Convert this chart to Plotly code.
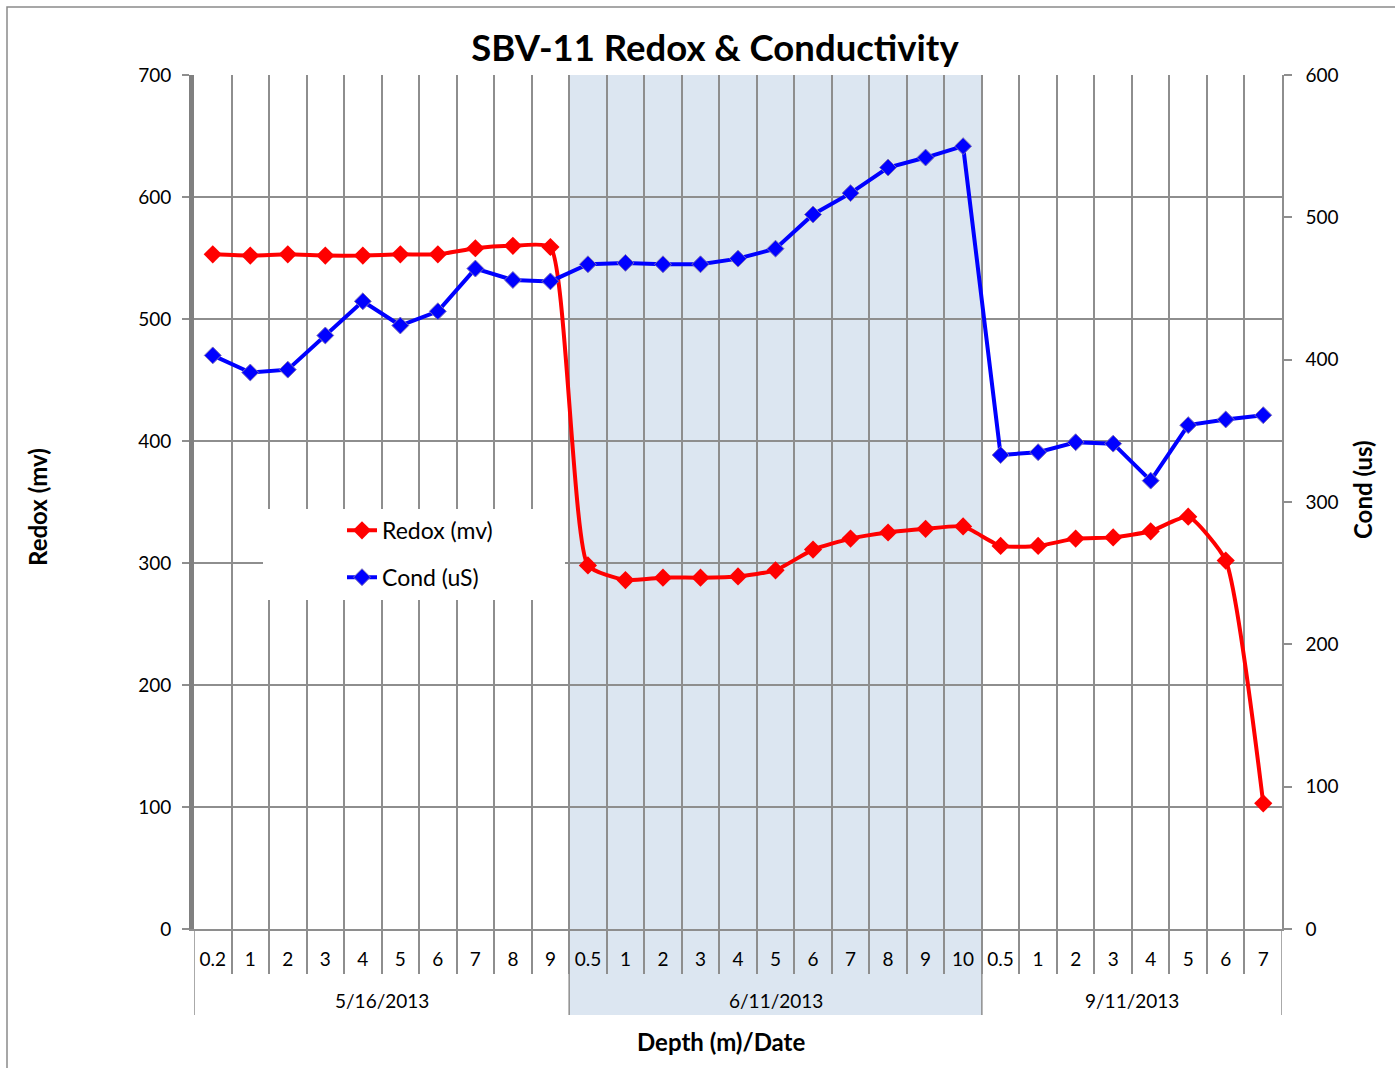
import plotly.graph_objects as go

# ---------------- data ----------------
depths = ["0.2", "1", "2", "3", "4", "5", "6", "7", "8", "9",
          "0.5", "1", "2", "3", "4", "5", "6", "7", "8", "9", "10",
          "0.5", "1", "2", "3", "4", "5", "6", "7"]
dates = ["5/16/2013"] * 10 + ["6/11/2013"] * 11 + ["9/11/2013"] * 8
redox = [553, 552, 553, 552, 552, 553, 553, 558, 560, 559,
         298, 286, 288, 288, 289, 294, 311, 320, 325, 328, 330,
         314, 314, 320, 321, 326, 338, 302, 103]
cond = [403, 391, 393, 417, 441, 424, 434, 464, 456, 455,
        467, 468, 467, 467, 471, 478, 502, 517, 535, 542, 550,
        333, 335, 342, 341, 315, 354, 358, 361]
redox_ticks = [0, 100, 200, 300, 400, 500, 600, 700]
cond_ticks = [0, 100, 200, 300, 400, 500, 600]
shaded_date = "6/11/2013"

FONT = "Lato"
GRID = "#8E8E8E"
idx = list(range(len(depths)))

# group boundaries from the date list
groups = []
start = 0
for i in range(1, len(dates) + 1):
    if i == len(dates) or dates[i] != dates[start]:
        groups.append((dates[start], start, i - 1))
        start = i

fig = go.Figure()
fig.add_trace(go.Scatter(
    x=idx, y=redox, name="Redox (mv)", mode="lines+markers",
    line=dict(color="#FF0000", width=4, shape="spline", smoothing=0.5),
    marker=dict(symbol="diamond", size=14, color="#FF0000"),
    legendgroup="a", yaxis="y"))
fig.add_trace(go.Scatter(
    x=idx, y=cond, name="Cond (uS)", mode="lines+markers",
    line=dict(color="#0000FF", width=4),
    marker=dict(symbol="diamond", size=13, color="#0000FF",
                line=dict(color="#7B6FB8", width=1)),
    legendgroup="b", yaxis="y2"))

shapes = []
ann = []
bottom_y = -86 / 854   # bottom of the date row (paper)
for name, a, b in groups:
    if name == shaded_date:
        shapes.append(dict(type="rect", xref="x", yref="paper",
                           x0=a - 0.5, x1=b + 0.5, y0=bottom_y, y1=1,
                           fillcolor="#DCE6F1", line=dict(width=0), layer="below"))
    ann.append(dict(text=name, x=(a + b) / 2, xref="x", y=-71 / 854, yref="paper",
                    showarrow=False, font=dict(family=FONT, size=19, color="#000"),
                    xanchor="center", yanchor="middle"))
bounds = sorted(set([g[1] - 0.5 for g in groups] + [g[2] + 0.5 for g in groups]))
for bx in bounds:
    shapes.append(dict(type="line", xref="x", yref="paper", x0=bx, x1=bx,
                       y0=0, y1=bottom_y, line=dict(color=GRID, width=1.5), layer="above"))

# legend white box
shapes.append(dict(type="rect", xref="paper", yref="paper",
                   x0=69 / 1088, x1=371 / 1088, y0=329 / 854, y1=420 / 854,
                   fillcolor="white", line=dict(width=0), layer="above"))
# chart-area border
shapes.append(dict(type="rect", xref="paper", yref="paper",
                   x0=-187 / 1088, x1=1220 / 1088, y0=-150 / 854, y1=922 / 854,
                   line=dict(color="#8A8A8A", width=1.5), fillcolor="rgba(0,0,0,0)", layer="below"))

ann += [
    dict(text="<b>Depth (m)/Date</b>", x=527 / 1088, y=-112 / 854, xref="paper", yref="paper",
         showarrow=False, font=dict(family=FONT, size=24, color="#000"), xanchor="center", yanchor="middle"),
    dict(text="<b>Redox (mv)</b>", x=-157 / 1088, y=422 / 854, xref="paper", yref="paper",
         showarrow=False, textangle=-90, font=dict(family=FONT, size=24, color="#000"),
         xanchor="center", yanchor="middle"),
    dict(text="<b>Cond (us)</b>", x=1168 / 1088, y=439 / 854, xref="paper", yref="paper",
         showarrow=False, textangle=-90, font=dict(family=FONT, size=24, color="#000"),
         xanchor="center", yanchor="middle"),
]

fig.update_layout(
    width=1395, height=1068, autosize=False,
    margin=dict(l=194, r=113, t=75, b=139, pad=0),
    paper_bgcolor="white", plot_bgcolor="rgba(0,0,0,0)",
    font=dict(family=FONT, size=19, color="#000"),
    title=dict(text="<b>SBV-11 Redox &amp; Conductivity</b>", x=715 / 1395, xanchor="center",
               y=1 - 48 / 1068, yanchor="middle", font=dict(family=FONT, size=36.5, color="#000")),
    showlegend=True,
    legend=dict(x=148 / 1088, y=0.492, xanchor="left", yanchor="top",
                bgcolor="rgba(0,0,0,0)", font=dict(family=FONT, size=23),
                tracegroupgap=14, traceorder="grouped"),
    xaxis=dict(range=[-0.5, len(depths) - 0.5], tickmode="array", tickvals=idx, ticktext=depths,
               ticks="", showgrid=False, zeroline=False,
               showline=True, linecolor=GRID, linewidth=1.5,
               ticklabelstandoff=12, tickfont=dict(family=FONT, size=19),
               minor=dict(tickmode="array", tickvals=[i - 0.5 for i in idx[1:]],
                          ticks="outside", ticklen=43, tickcolor=GRID, tickwidth=1.5,
                          showgrid=True, gridcolor=GRID, gridwidth=1.5)),
    yaxis=dict(range=[0, 700], tickmode="array", tickvals=redox_ticks,
               showgrid=True, gridcolor=GRID, gridwidth=1.5, zeroline=False,
               showline=True, linecolor="#808080", linewidth=5,
               ticks="outside", ticklen=7, tickcolor=GRID, tickwidth=1.5,
               ticklabelstandoff=7, tickfont=dict(family=FONT, size=19)),
    yaxis2=dict(range=[0, 600], tickmode="array", tickvals=cond_ticks, overlaying="y", side="right",
                showgrid=False, zeroline=False, showline=True, linecolor=GRID, linewidth=1.5,
                ticks="outside", ticklen=8, tickcolor=GRID, tickwidth=1.5,
                ticklabelstandoff=10, tickfont=dict(family=FONT, size=19)),
    shapes=shapes, annotations=ann,
)

fig.write_html("out.html", config={"displayModeBar": False},
               post_script="document.body.style.margin='0';")
